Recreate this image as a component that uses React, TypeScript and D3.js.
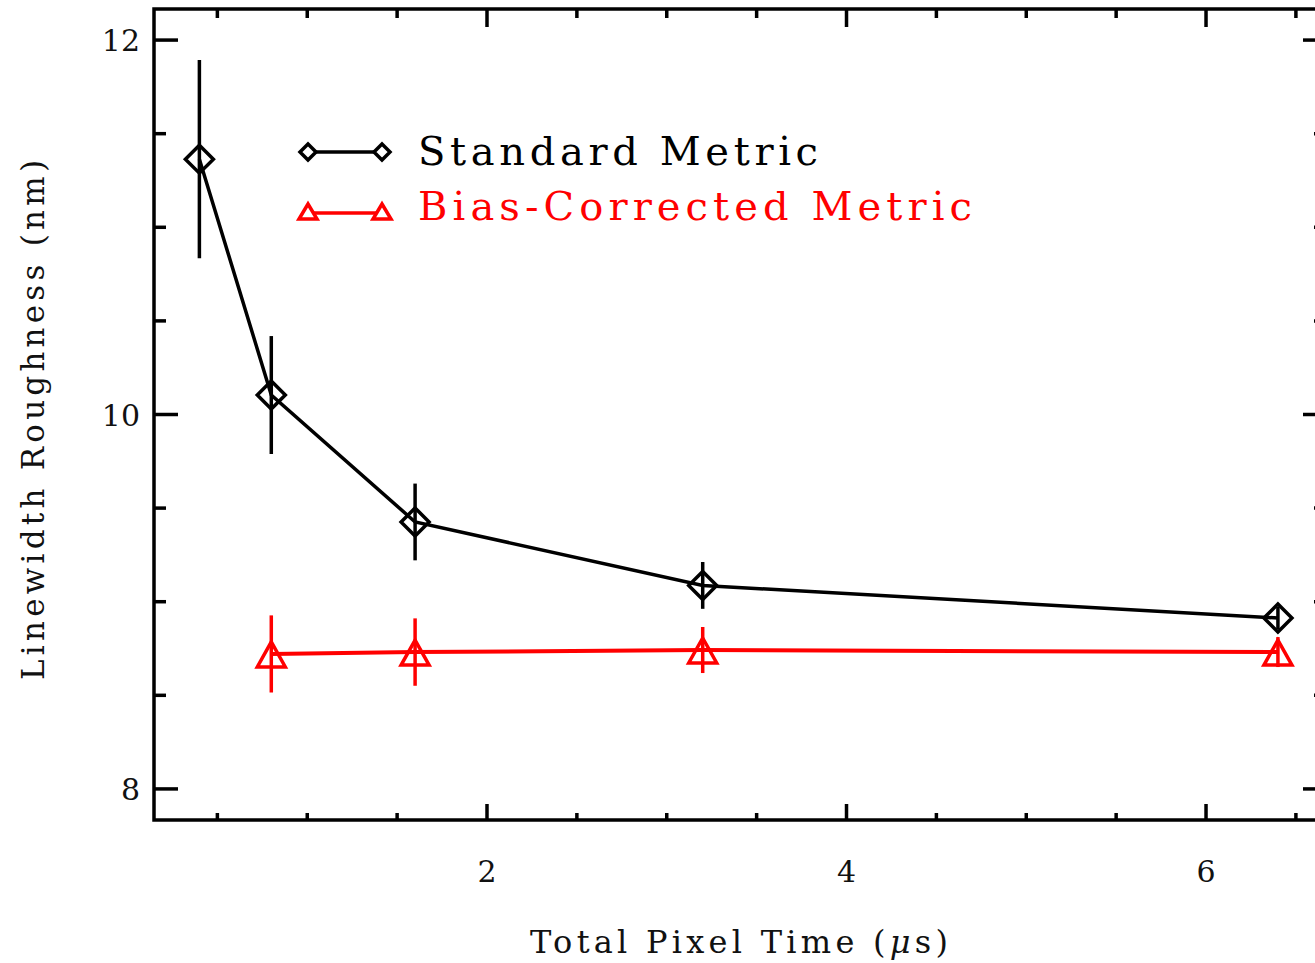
import React from 'react';
import * as d3 from 'd3';

// pixel time (µs) for each run
const pixelTimes = [0.4, 0.8, 1.6, 3.2, 6.4];
const standardValues = [11.364, 10.104, 9.426, 9.087, 8.913];
const standardErrors = [0.53, 0.315, 0.205, 0.125, 0.06];
const biasTimes = [0.8, 1.6, 3.2, 6.4];
const biasValues = [8.721, 8.731, 8.742, 8.731];
const biasErrors = [0.206, 0.18, 0.123, 0.08];

const xMajorTicks = [2, 4, 6];
const xMinorTicks = [0.5, 1, 1.5, 2.5, 3, 3.5, 4.5, 5, 5.5, 6.5];
const yMajorTicks = [8, 10, 12];
const yMinorTicks = [8.5, 9, 9.5, 10.5, 11, 11.5];

const W = 1315;
const H = 963;
const FONT = '"DejaVu Serif", "Liberation Serif", serif';

const diamond = (r: number) => `M0,${-r}L${r},0L0,${r}L${-r},0Z`;
const triangle = (w: number, up: number, down: number) => `M0,${-up}L${w},${down}L${-w},${down}Z`;

export default function App() {
  const left = 154, right = 1327, top = 9, bottom = 820;
  const x = d3.scaleLinear().domain([0.1475, 6.673]).range([left, right]);
  const y = d3.scaleLinear().domain([7.834, 12.166]).range([bottom, top]);

  const std = pixelTimes.map((t, i) => ({ t, v: standardValues[i], e: standardErrors[i] }));
  const bias = biasTimes.map((t, i) => ({ t, v: biasValues[i], e: biasErrors[i] }));
  const line = d3.line<{ t: number; v: number }>().x(d => x(d.t)).y(d => y(d.v));

  return (
    <svg width={W} height={H} style={{ position: 'absolute', left: 0, top: 0, background: '#fff', overflow: 'hidden' }}>
      {/* frame */}
      <rect x={left} y={top} width={right - left} height={bottom - top} fill="none" stroke="#000" strokeWidth={3.5} />

      {/* x ticks, bottom and top */}
      {xMajorTicks.map(t => (
        <g key={'xM' + t}>
          <line x1={x(t)} x2={x(t)} y1={bottom} y2={bottom - 16} stroke="#000" strokeWidth={3.5} />
          <line x1={x(t)} x2={x(t)} y1={top} y2={top + 18} stroke="#000" strokeWidth={3.5} />
          <text x={x(t)} y={882} textAnchor="middle" fontFamily={FONT} fontSize={30} fill="#111">{t}</text>
        </g>
      ))}
      {xMinorTicks.map(t => (
        <g key={'xm' + t}>
          <line x1={x(t)} x2={x(t)} y1={bottom} y2={bottom - 7} stroke="#000" strokeWidth={3.5} />
          <line x1={x(t)} x2={x(t)} y1={top} y2={top + 9} stroke="#000" strokeWidth={3.5} />
        </g>
      ))}

      {/* y ticks, left and right */}
      {yMajorTicks.map(t => (
        <g key={'yM' + t}>
          <line x1={left} x2={left + 24} y1={y(t)} y2={y(t)} stroke="#000" strokeWidth={3.5} />
          <line x1={right} x2={right - 24} y1={y(t)} y2={y(t)} stroke="#000" strokeWidth={3.5} />
          <text x={140} y={y(t) + 11} textAnchor="end" fontFamily={FONT} fontSize={30} fill="#111">{t}</text>
        </g>
      ))}
      {yMinorTicks.map(t => (
        <g key={'ym' + t}>
          <line x1={left} x2={left + 12} y1={y(t)} y2={y(t)} stroke="#000" strokeWidth={3.5} />
          <line x1={right} x2={right - 13} y1={y(t)} y2={y(t)} stroke="#000" strokeWidth={3.5} />
        </g>
      ))}

      {/* axis titles */}
      <text x={739} y={953} textAnchor="middle" fontFamily={FONT} fontSize={32} fill="#111"
        textLength={418} lengthAdjust="spacing">Total Pixel Time (<tspan fontStyle="italic">μ</tspan>s)</text>
      <text transform="translate(44,420) rotate(-90)" textAnchor="middle" fontFamily={FONT} fontSize={31} fill="#111"
        textLength={520} lengthAdjust="spacing">Linewidth Roughness (nm)</text>

      {/* standard metric */}
      <path d={line(std) || ''} fill="none" stroke="#000" strokeWidth={3.5} />
      {std.map(d => (
        <g key={'s' + d.t} transform={`translate(${x(d.t)},${y(d.v)})`}>
          <line x1={0} x2={0} y1={y(d.v + d.e) - y(d.v)} y2={y(d.v - d.e) - y(d.v)} stroke="#000" strokeWidth={3.5} />
          <path d={diamond(14)} fill="none" stroke="#000" strokeWidth={3.5} />
        </g>
      ))}

      {/* bias-corrected metric */}
      <path d={line(bias) || ''} fill="none" stroke="#ff0000" strokeWidth={4} />
      {bias.map(d => (
        <g key={'b' + d.t} transform={`translate(${x(d.t)},${y(d.v)})`}>
          <line x1={0} x2={0} y1={y(d.v + d.e) - y(d.v)} y2={y(d.v - d.e) - y(d.v)} stroke="#ff0000" strokeWidth={3.5} />
          <path d={triangle(14, 12, 13)} fill="none" stroke="#ff0000" strokeWidth={3.5} />
        </g>
      ))}

      {/* legend */}
      <g>
        <line x1={308} x2={382} y1={152} y2={152} stroke="#000" strokeWidth={3.5} />
        <path d={diamond(8)} transform="translate(308,152)" fill="#fff" stroke="#000" strokeWidth={3.5} />
        <path d={diamond(8)} transform="translate(382,152)" fill="#fff" stroke="#000" strokeWidth={3.5} />
        <text x={418} y={165} fontFamily={FONT} fontSize={40} fill="#000" textLength={400} lengthAdjust="spacing">Standard Metric</text>

        <line x1={308} x2={382} y1={213} y2={213} stroke="#ff0000" strokeWidth={3.5} />
        <path d={triangle(9, 8, 7)} transform="translate(308,212)" fill="#fff" stroke="#ff0000" strokeWidth={3.5} />
        <path d={triangle(9, 8, 7)} transform="translate(382,212)" fill="#fff" stroke="#ff0000" strokeWidth={3.5} />
        <text x={418} y={220} fontFamily={FONT} fontSize={40} fill="#ff0000" textLength={554} lengthAdjust="spacing">Bias-Corrected Metric</text>
      </g>
    </svg>
  );
}
